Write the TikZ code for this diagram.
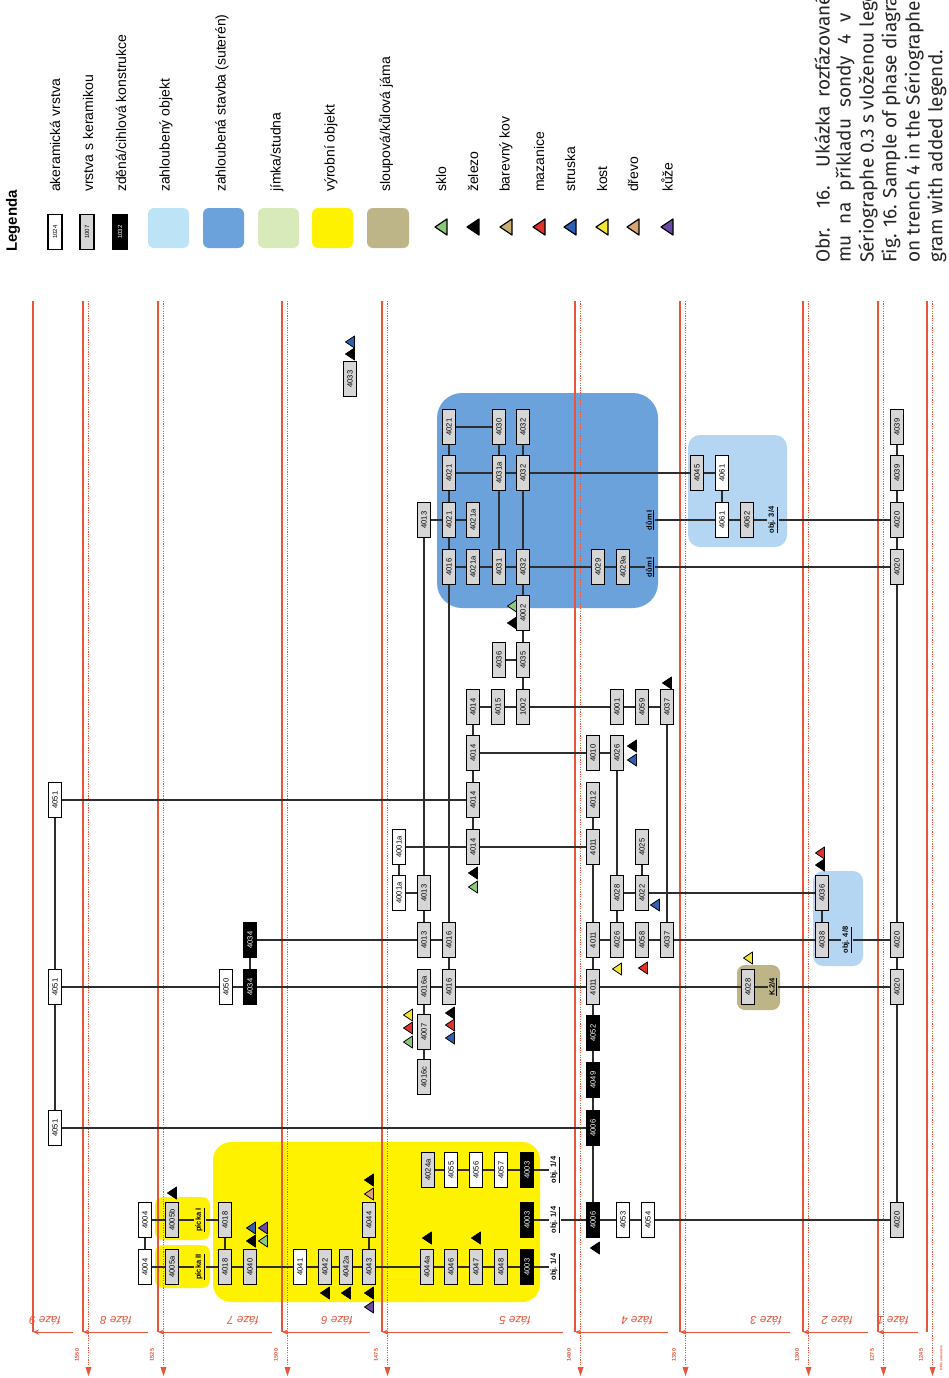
\documentclass[tikz,border=0pt]{standalone}
\usepackage{fontspec}
\setmainfont{Liberation Sans}
\newfontfamily\capfont{Fira Sans}
\usetikzlibrary{arrows.meta}
\definecolor{phred}{HTML}{E8553A}
\definecolor{boxgray}{HTML}{D6D6D6}
\definecolor{linegray}{HTML}{2E2E2E}
\definecolor{ylw}{HTML}{FFF200}
\definecolor{bigblue}{HTML}{6CA2DC}
\definecolor{ltblue}{HTML}{B4D6F2}
\definecolor{ltcyan}{HTML}{BDE3F6}
\definecolor{ltgreen}{HTML}{D8EAB9}
\definecolor{tan}{HTML}{BDB487}
\definecolor{tsklo}{HTML}{8CC87A}
\definecolor{tbarev}{HTML}{C8B070}
\definecolor{tmaz}{HTML}{E2302A}
\definecolor{tstrus}{HTML}{2F5FB3}
\definecolor{tkost}{HTML}{F2E63A}
\definecolor{tdrevo}{HTML}{D9A374}
\definecolor{tkuze}{HTML}{6A4AA6}
\newcommand{\gbx}[3]{\node[gbox] (#1) at (#2) {#3};}
\newcommand{\wbx}[3]{\node[wbox] (#1) at (#2) {#3};}
\newcommand{\kbx}[3]{\node[kbox] (#1) at (#2) {#3};}
\newcommand{\lbx}[3]{\node[lbl] (#1) at (#2) {\underline{#3}};}
\newcommand{\tri}[3]{\filldraw[fill=#3,draw=black,line width=0.8pt,line join=round] (#1+4.5,#2-6) -- (#1-4.5,#2) -- (#1+4.5,#2+6) -- cycle;}
\newcommand{\ltri}[3]{\filldraw[fill=#3,draw=black,line width=1.2pt,line join=round] (#1+6,#2-8) -- (#1-6,#2) -- (#1+6,#2+8) -- cycle;}
\begin{document}
\begin{tikzpicture}[x=1pt,y=-1pt]
\tikzset{
  base/.style={draw=black, line width=0.8pt, rotate=90, minimum width=35pt, minimum height=12.5pt, inner sep=0pt, font=\fontsize{7.6}{7.6}\selectfont},
  gbox/.style={base, fill=boxgray},
  wbox/.style={base, fill=white},
  kbox/.style={base, fill=black, text=white},
  lbl/.style={rotate=90, inner sep=1pt, font=\fontsize{7.5}{7.5}\selectfont\bfseries},
  conn/.style={draw=linegray, line width=1.1pt},
  solidph/.style={draw=phred, line width=1.3pt},
  dotph/.style={draw=phred, line width=1.1pt, dash pattern=on 1.2pt off 1.2pt},
  phlab/.style={text=phred, rotate=180, font=\fontsize{11.5}{11.5}\selectfont\itshape},
  yrlab/.style={text=phred, rotate=90, font=\fontsize{5.5}{5.5}\selectfont\bfseries, inner sep=0pt},
  legtxt/.style={rotate=90, anchor=west, inner sep=0pt, font=\fontsize{14}{14}\selectfont},
  swatch/.style={rounded corners=6pt},
  captxt/.style={rotate=90, anchor=west, inner sep=0pt, text=black!85, font=\capfont\fontsize{19}{19}\selectfont},
}
\useasboundingbox (0,0) rectangle (949,1378);
\fill[white] (0,0) rectangle (949,1378);

% ---------- background regions ----------
\fill[bigblue] (437,393) [rounded corners=25] rectangle (658,608);
\fill[ltblue] (688,435) [rounded corners=12] rectangle (787,547);
\fill[ltblue] (813,871) [rounded corners=10] rectangle (863,966);
\fill[tan] (737,965) [rounded corners=8] rectangle (780,1010);
\fill[ylw, rounded corners=18] (213,1142) rectangle (540,1302);
\fill[ylw, rounded corners=8] (155,1197) rectangle (210,1240);
\fill[ylw, rounded corners=8] (155,1245) rectangle (210,1288);

% ---------- phase lines ----------
\foreach \xs in {33,83,158,282,382,575,680,803,878,927}{
  \draw[solidph] (\xs,301) -- (\xs,1332);
}
\foreach \xs in {83,158,282,382,575,680,803,878,927}{
  \draw[dotph] (\xs+5.5,301) -- (\xs+5.5,1374);
  \fill[phred] (\xs+2.5,1367) -- (\xs+8.5,1367) -- (\xs+5.5,1376) -- cycle;
}
\foreach \xa/\xb in {33/73,83/148,158/272,282/370,382/563,575/668,680/790,803/868,878/918}{
  \draw[phred, line width=1pt, {Stealth[length=6pt,width=5pt]}-] (\xa,1332) -- (\xb,1332);
}
\node[phlab] (f9) at (45,1321) {fáze 9};
\node[phlab] (f8) at (116,1321) {fáze 8};
\node[phlab] (f7) at (243,1321) {fáze 7};
\node[phlab] (f6) at (337,1321) {fáze 6};
\node[phlab] (f5) at (515,1321) {fáze 5};
\node[phlab] (f4) at (637,1321) {fáze 4};
\node[phlab] (f3) at (766,1321) {fáze 3};
\node[phlab] (f2) at (837,1321) {fáze 2};
\node[phlab] (f1) at (893,1321) {fáze 1};
\node[yrlab] (y1) at (77,1355) {1550};
\node[yrlab] (y2) at (152,1355) {1525};
\node[yrlab] (y3) at (276,1355) {1500};
\node[yrlab] (y4) at (376,1355) {1475};
\node[yrlab] (y5) at (569,1355) {1400};
\node[yrlab] (y6) at (674,1355) {1350};
\node[yrlab] (y7) at (797,1355) {1300};
\node[yrlab] (y8) at (872,1355) {1275};
\node[yrlab] (y9) at (921,1355) {1245};
\node[yrlab, font=\fontsize{3.5}{3.5}\selectfont\bfseries] (y10) at (941,1358) {HPG sekvence};

% ---------- boxes ----------
\gbx{b4033}{350,379}{4033}
\gbx{b4021a}{449,427}{4021}
\gbx{b4021b}{449,473}{4021}
\gbx{b4021c}{449,520}{4021}
\gbx{b4016a}{449,567}{4016}
\gbx{b4013a}{424,520}{4013}
\gbx{b4021ax}{473,520}{4021a}
\gbx{b4021ay}{473,567}{4021a}
\gbx{b4030}{499,427}{4030}
\gbx{b4031a}{499,473}{4031a}
\gbx{b4031}{499,567}{4031}
\gbx{b4032a}{523,427}{4032}
\gbx{b4032b}{523,473}{4032}
\gbx{b4032c}{523,567}{4032}
\gbx{b4002}{523,613}{4002}
\gbx{b4036}{499,660}{4036}
\gbx{b4035}{523,660}{4035}
\gbx{b1002}{523,707}{1002}
\gbx{b4014a}{473,707}{4014}
\gbx{b4015}{498,707}{4015}
\gbx{b4014b}{473,753}{4014}
\gbx{b4014c}{473,800}{4014}
\gbx{b4014d}{473,847}{4014}
\wbx{w4001aa}{399,847}{4001a}
\wbx{w4001ab}{399,893}{4001a}
\gbx{b4013b}{424,893}{4013}
\gbx{b4013c}{424,940}{4013}
\gbx{b4016b}{449,940}{4016}
\gbx{b4016aa}{424,987}{4016a}
\gbx{b4016c}{449,987}{4016}
\gbx{b4007}{424,1032}{4007}
\gbx{b4016cc}{424,1077}{4016c}
\gbx{b4001}{617,707}{4001}
\gbx{b4059}{642,707}{4059}
\gbx{b4037a}{667,707}{4037}
\gbx{b4010}{593,753}{4010}
\gbx{b4026a}{617,753}{4026}
\gbx{b4012}{593,800}{4012}
\gbx{b4011a}{593,847}{4011}
\gbx{b4025}{642,847}{4025}
\gbx{b4028a}{617,893}{4028}
\gbx{b4022}{642,893}{4022}
\gbx{b4011b}{593,940}{4011}
\gbx{b4026b}{617,940}{4026}
\gbx{b4058}{642,940}{4058}
\gbx{b4037b}{667,940}{4037}
\gbx{b4011c}{593,987}{4011}
\gbx{b4028b}{748,987}{4028}
\gbx{b4036x}{822,893}{4036}
\gbx{b4038}{822,940}{4038}
\gbx{b4039a}{897,427}{4039}
\gbx{b4039b}{897,473}{4039}
\gbx{b4020a}{897,520}{4020}
\gbx{b4020b}{897,567}{4020}
\gbx{b4020c}{897,940}{4020}
\gbx{b4020d}{897,987}{4020}
\gbx{b4020e}{897,1220}{4020}
\gbx{b4045}{697,473}{4045}
\wbx{w4061a}{722,473}{4061}
\wbx{w4061b}{722,520}{4061}
\gbx{b4062}{747,520}{4062}
\gbx{b4029}{598,567}{4029}
\gbx{b4029a}{623,567}{4029a}
\gbx{b4024a}{428,1170}{4024a}
\wbx{w4055}{451,1170}{4055}
\wbx{w4056}{476,1170}{4056}
\wbx{w4057}{501,1170}{4057}
\kbx{k4003a}{527,1170}{4003}
\kbx{k4003b}{527,1220}{4003}
\kbx{k4003c}{527,1267}{4003}
\gbx{b4044}{369,1220}{4044}
\wbx{w4041}{300,1267}{4041}
\gbx{b4042}{325,1267}{4042}
\gbx{b4042a}{346,1267}{4042a}
\gbx{b4043}{369,1267}{4043}
\gbx{b4044a}{427,1267}{4044a}
\gbx{b4046}{451,1267}{4046}
\gbx{b4047}{476,1267}{4047}
\gbx{b4048}{501,1267}{4048}
\wbx{w4004a}{145,1220}{4004}
\wbx{w4004b}{145,1267}{4004}
\gbx{b4005b}{172,1220}{4005b}
\gbx{b4005a}{172,1267}{4005a}
\gbx{b4018a}{225,1220}{4018}
\gbx{b4018b}{225,1267}{4018}
\gbx{b4040}{250,1267}{4040}
\wbx{w4051a}{55,800}{4051}
\wbx{w4051b}{55,987}{4051}
\wbx{w4051c}{55,1128}{4051}
\wbx{w4050}{226,987}{4050}
\kbx{k4034a}{250,940}{4034}
\kbx{k4034b}{250,987}{4034}
\kbx{k4052}{593,1033}{4052}
\kbx{k4049}{593,1080}{4049}
\kbx{k4006a}{593,1128}{4006}
\kbx{k4006b}{593,1220}{4006}
\wbx{w4053}{623,1220}{4053}
\wbx{w4054}{648,1220}{4054}

% ---------- labels ----------
\lbx{lo14a}{555,1170}{obj. 1/4}
\lbx{lo14b}{555,1220}{obj. 1/4}
\lbx{lo14c}{555,1267}{obj. 1/4}
\lbx{lp1}{200,1220}{pícka I}
\lbx{lp2}{200,1267}{pícka II}
\lbx{ld1}{650,520}{dům I}
\lbx{ld2}{650,567}{dům I}
\lbx{lo34}{773,520}{obj. 3/4}
\lbx{lo48}{847,940}{obj. 4/8}
\lbx{lk24}{773,987}{K.2/4}

% ---------- connectors ----------
\foreach \a/\b in {
 b4021a/b4021b, b4021b/b4021c, b4021c/b4016a, b4016a/b4016b, b4016b/b4016c,
 b4021a/b4030, b4021b/b4031a, b4031a/b4032b, b4032b/b4045,
 b4013a/b4021c, b4021c/b4021ax,
 b4016a/b4021ay, b4021ay/b4031, b4031/b4032c, b4032c/b4029, b4029/b4029a, b4029a/ld2, ld2/b4020b,
 b4030/b4031a, b4031a/b4031, b4032a/b4032b, b4032b/b4032c, b4032c/b4002, b4002/b4035, b4035/b1002, b4036/b4035,
 b4013a/b4013b, b4013b/b4013c, w4001aa/w4001ab, w4001ab/b4013b,
 w4001aa/b4014d, b4014d/b4011a,
 b4014a/b4014b, b4014b/b4014c, b4014c/b4014d,
 b4014a/b4015, b4015/b1002, b1002/b4001, b4001/b4059, b4059/b4037a,
 b4014b/b4010, b4010/b4026a, w4051a/b4014c,
 k4034a/b4013c, b4013c/b4016b,
 b4011b/b4026b, b4026b/b4058, b4058/b4037b, b4037b/b4038, b4038/lo48, lo48/b4020c,
 b4028a/b4022, b4022/b4036x, b4036x/b4038,
 b4012/b4011a, b4011a/b4011b, b4011b/b4011c, b4011c/k4052, k4052/k4049, k4049/k4006a, k4006a/k4006b,
 b4026a/b4028a, b4028a/b4026b, b4025/b4022, b4037a/b4037b,
 w4051b/w4050, w4050/k4034b, k4034b/b4016aa, b4016aa/b4016c, b4016c/b4011c, b4011c/b4028b, b4028b/lk24, lk24/b4020d,
 b4016aa/b4007, b4007/b4016cc, k4034a/k4034b,
 w4051a/w4051b, w4051b/w4051c, w4051c/k4006a,
 b4024a/w4055, w4055/w4056, w4056/w4057, w4057/k4003a, k4003a/lo14a,
 w4004a/b4005b, b4005b/lp1, lp1/b4018a,
 k4003b/lo14b, lo14b/k4006b, k4006b/w4053, w4053/w4054, w4054/b4020e,
 w4004b/b4005a, b4005a/lp2, lp2/b4018b, b4018b/b4040, b4040/w4041, w4041/b4042, b4042/b4042a, b4042a/b4043,
 b4043/b4044a, b4044a/b4046, b4046/b4047, b4047/b4048, b4048/k4003c, k4003c/lo14c,
 w4004a/w4004b, b4018a/b4018b, b4044/b4043,
 b4039a/b4039b, b4039b/b4020a, b4020a/b4020b, b4020b/b4020c, b4020c/b4020d, b4020d/b4020e,
 b4045/w4061a, w4061a/w4061b, ld1/w4061b, w4061b/b4062, b4062/lo34, lo34/b4020a}{ \draw[conn] (\a) -- (\b); }

% ---------- find markers ----------
\tri{350}{342}{tstrus}
\tri{350}{354}{black}
\tri{512}{606}{tsklo}
\tri{512}{623}{black}
\tri{667}{683}{black}
\tri{632}{746}{black}
\tri{632}{760}{tstrus}
\tri{655}{905}{tstrus}
\tri{617}{969}{tkost}
\tri{643}{968}{tmaz}
\tri{748}{958}{tkost}
\tri{820}{853}{tmaz}
\tri{820}{865}{black}
\tri{473}{873}{black}
\tri{473}{887}{tsklo}
\tri{408}{1015}{tkost}
\tri{408}{1028}{tmaz}
\tri{408}{1042}{tsklo}
\tri{450}{1013}{black}
\tri{450}{1025}{tmaz}
\tri{450}{1038}{tstrus}
\tri{172}{1193}{black}
\tri{251}{1228}{tstrus}
\tri{263}{1228}{tkuze}
\tri{251}{1241}{black}
\tri{263}{1241}{tsklo}
\tri{369}{1180}{black}
\tri{369}{1194}{tdrevo}
\tri{427}{1238}{black}
\tri{476}{1238}{black}
\tri{325}{1293}{black}
\tri{346}{1293}{black}
\tri{369}{1293}{black}
\tri{369}{1307}{tkuze}
\tri{595}{1248}{black}

% ---------- legend ----------
\node[rotate=90, anchor=west, inner sep=0pt, font=\fontsize{15}{15}\selectfont\bfseries] (leghead) at (13,252) {Legenda};
\node[wbox, line width=1.1pt, minimum height=14pt, font=\fontsize{6}{6}\selectfont] (lg1) at (55,232) {1024};
\node[gbox, line width=1.1pt, minimum height=14pt, font=\fontsize{6}{6}\selectfont] (lg2) at (87,232) {1007};
\node[kbox, line width=1.1pt, minimum height=14pt, font=\fontsize{6}{6}\selectfont] (lg3) at (120,232) {1032};
\fill[ltcyan, swatch] (148,208) rectangle (189,248);
\fill[bigblue, swatch] (203,208) rectangle (244,248);
\fill[ltgreen, swatch] (258,208) rectangle (299,248);
\fill[ylw, swatch] (312,208) rectangle (353,248);
\fill[tan, swatch] (367,208) rectangle (409,248);
\foreach \xx/\lt [count=\i] in {55/{akeramická vrstva}, 88/{vrstva s keramikou}, 121/{zděná/cihlová konstrukce}, 166/{zahloubený objekt}, 222/{zahloubená stavba (suterén)}, 277/{jímka/studna}, 331/{výrobní objekt}, 386/{sloupová/kůlová jáma}}{
  \node[legtxt] (lb\i) at (\xx,192) {\lt};
}
\foreach \xx/\cc/\lt [count=\i] in {441/tsklo/sklo, 473/black/železo, 506/tbarev/{barevný kov}, 539/tmaz/mazanice, 570/tstrus/struska, 602/tkost/kost, 633/tdrevo/dřevo, 667/tkuze/kůže}{
  \ltri{\xx}{227}{\cc}
  \node[legtxt] (lt\i) at (\xx,192) {\lt};
}

% ---------- caption ----------
\begin{scope}
\clip (800,0) rectangle (949,300);
\node[captxt] (c1) at (822,263) {\makebox[290pt][s]{Obr. 16. Ukázka rozfázovaného}};
\node[captxt] (c2) at (845,263) {\makebox[290pt][s]{mu na příkladu sondy 4 v pro}};
\node[captxt] (c3) at (868,263) {Sériographe 0.3 s vloženou legendou};
\node[captxt] (c4) at (891,263) {Fig. 16. Sample of phase diagram};
\node[captxt] (c5) at (914,263) {on trench 4 in the Sériographe};
\node[captxt] (c6) at (937,263) {gram with added legend.};
\end{scope}
\end{tikzpicture}
\end{document}
